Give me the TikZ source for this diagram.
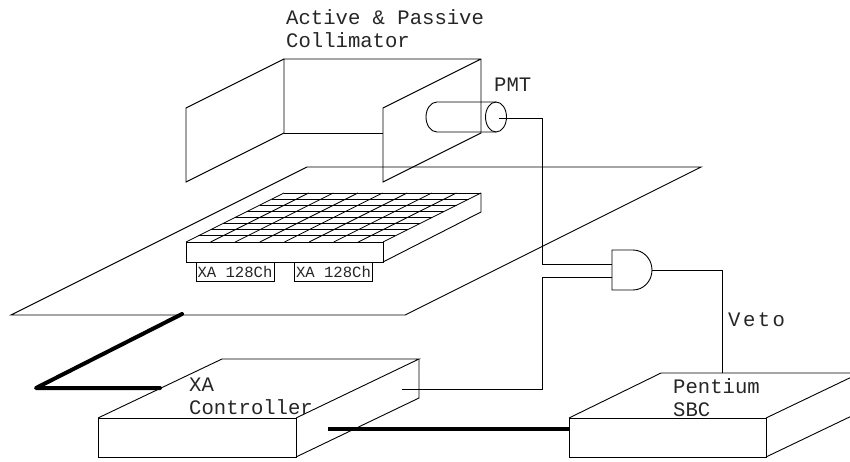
\documentclass[tikz,border=0pt]{standalone}
\usepackage{fontspec}
\setmonofont{Liberation Mono}
\newfontfamily\widefont{Liberation Mono}[LetterSpace=12]
\usepackage{xcolor}
\usetikzlibrary{calc}
\tikzset{
  part/.style={draw=black, line width=0.9pt, line join=miter},
  wire/.style={draw=black, line width=0.9pt},
  bus/.style={draw=black, line width=4pt, line cap=round, line join=round},
  lbl/.style={font=\fontsize{20.6}{22}\selectfont\ttfamily, anchor=base west, inner sep=0pt, text=black!85},
  chip/.style={draw=black, line width=0.9pt, minimum width=78pt, minimum height=19pt, inner sep=0pt,
               font=\fontsize{15.6}{17}\selectfont\ttfamily, text=black!85},
}
\begin{document}
\begin{tikzpicture}[x=1pt, y=-1pt]
  \clip (0,0) rectangle (850,462);
  \fill[white] (0,0) rectangle (850,462);

  % --- collimator ---
  \draw[part] (284,133) -- (284,59) -- (481,59) -- (481,133) -- (383,182) -- (383,108) -- (481,59);
  \draw[part] (284,133) -- (383,133);
  \draw[part] (284,59) -- (186,108) -- (186,182) -- (284,133);
  \node[lbl] (colla) at (286,25) {Active \& Passive};
  \node[lbl] (collb) at (286,48) {Collimator};

  % --- pmt ---
  \draw[part] (496,102) -- (437,102) arc[start angle=270, end angle=90, x radius=11, y radius=15] -- (496,132);
  \draw[part] (496,117) ellipse[x radius=10.5, y radius=15];
  \coordinate (pmtout) at (499,118);
  \node[lbl] (pmtlbl) at (494,92) {PMT};

  % --- plane ---
  \draw[part] (307,167) -- (701,167) -- (405,315) -- (11,315) -- cycle;

  % --- detector ---
  \foreach \i in {0,...,8} {
    \draw[part, line width=0.8pt] ({284-98*\i/8},{193+49*\i/8}) -- ({481-98*\i/8},{193+49*\i/8});
    \draw[part, line width=0.8pt] ({284+197*\i/8},193) -- ({186+197*\i/8},242);
  }
  \draw[part] (186,242) rectangle (383,262);
  \draw[part] (481,193) -- (481,212) -- (383,262);
  \node[chip] (xa1) at (235,271.5) {XA 128Ch};
  \node[chip] (xa2) at (333.5,271.5) {XA 128Ch};

  % --- controller ---
  \draw[part] (98,418) rectangle (296,457);
  \draw[part] (98,418) -- (222,359) -- (419,359) -- (296,418);
  \draw[part] (419,359) -- (419,398) -- (296,457);
  \coordinate (ctrlout) at (402,389);
  \coordinate (ctrlbus) at (160,388);
  \coordinate (planebus) at (182,314);
  \coordinate (busbend) at (36,388);
  \coordinate (ctrlbusb) at (328,428.5);
  \node[lbl] (ctrla) at (189,391) {XA};
  \node[lbl] (ctrlb) at (189,414) {Controller};

  % --- pentium ---
  \draw[part] (569,418) rectangle (766,457);
  \draw[part] (569,418) -- (661,373) -- (860,373) -- (766,418);
  \draw[part] (766,457) -- (860,412);
  \coordinate (sbcbus) at (569,428.5);
  \coordinate (sbcin) at (722,373);
  \node[lbl] (sbca) at (673,393) {Pentium};
  \node[lbl] (sbcb) at (673,416) {SBC};

  % --- and gate ---
  \draw[part] (612,250) -- (633,250) arc[start angle=-90, end angle=90, x radius=19, y radius=20] -- (612,290) -- cycle;
  \coordinate (gatea) at (612,264);
  \coordinate (gateb) at (612,277);
  \coordinate (gateout) at (652,270);

  % --- wires ---
  \draw[wire] (pmtout) -- (542.5,118) -- (542.5,264) -- (gatea);
  \draw[wire] (ctrlout) -- (542.5,389) -- (542.5,277) -- (gateb);
  \draw[wire] (gateout) -| (sbcin);
  \node[lbl, font=\fontsize{20.6}{22}\selectfont\widefont] (veto) at (728,326) {Veto};

  % --- buses ---
  \draw[bus] (planebus) -- (busbend) -- (ctrlbus);
  \draw[bus, line cap=butt] (ctrlbusb) -- (sbcbus);
\end{tikzpicture}
\end{document}
